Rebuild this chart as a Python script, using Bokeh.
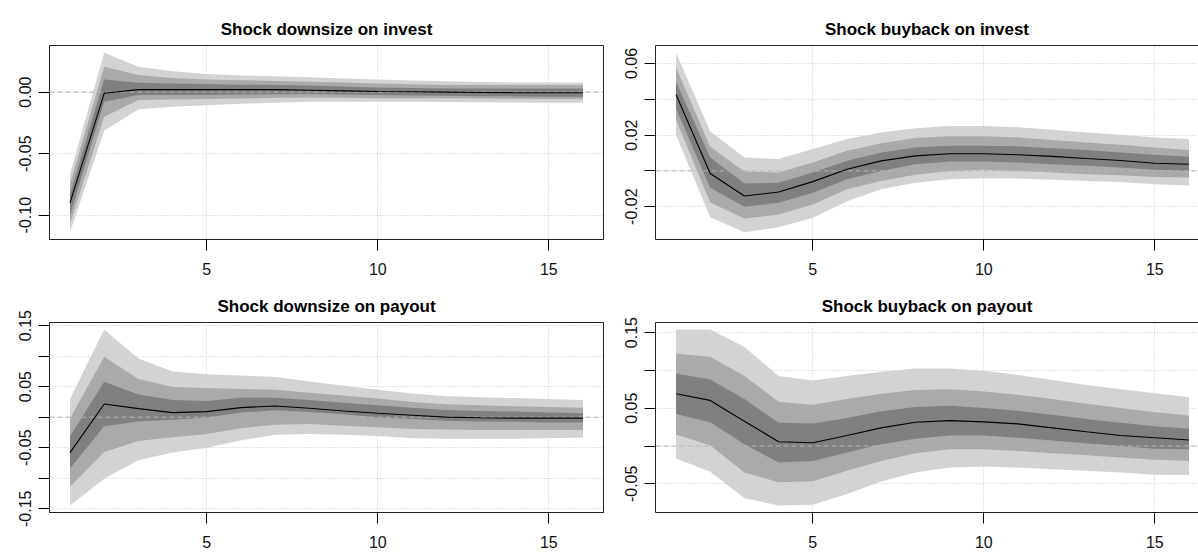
from bokeh.plotting import figure
from bokeh.layouts import column, row
from bokeh.models import Range1d, FixedTicker, CustomJSTickFormatter, Span, LinearAxis
from bokeh.embed import file_html
from bokeh.resources import INLINE

# ---------------- data ----------------
horizon = list(range(1, 17))
x_ticks = [5, 10, 15]

title_di = "Shock downsize on invest"
title_bi = "Shock buyback on invest"
title_dp = "Shock downsize on payout"
title_bp = "Shock buyback on payout"

# Shock downsize on invest
di_med  = [-0.0900, -0.0010, 0.0020, 0.0020, 0.0020, 0.0020, 0.0020, 0.0015, 0.0010, 0.0005, 0.0003, 0.0000, -0.0003, -0.0005, -0.0005, -0.0005]
di_o_hi = [-0.0668, 0.0320, 0.0206, 0.0170, 0.0146, 0.0135, 0.0128, 0.0120, 0.0110, 0.0103, 0.0095, 0.0088, 0.0082, 0.0078, 0.0077, 0.0076]
di_o_lo = [-0.1139, -0.0314, -0.0140, -0.0120, -0.0106, -0.0095, -0.0087, -0.0079, -0.0078, -0.0079, -0.0079, -0.0080, -0.0082, -0.0084, -0.0086, -0.0087]
di_m_hi = [-0.0745, 0.0206, 0.0138, 0.0115, 0.0103, 0.0097, 0.0090, 0.0084, 0.0077, 0.0070, 0.0063, 0.0058, 0.0057, 0.0057, 0.0057, 0.0057]
di_m_lo = [-0.1070, -0.0200, -0.0065, -0.0060, -0.0057, -0.0052, -0.0047, -0.0043, -0.0046, -0.0051, -0.0050, -0.0050, -0.0052, -0.0054, -0.0056, -0.0057]
di_i_hi = [-0.0826, 0.0103, 0.0076, 0.0070, 0.0065, 0.0060, 0.0057, 0.0054, 0.0046, 0.0038, 0.0034, 0.0030, 0.0030, 0.0030, 0.0030, 0.0030]
di_i_lo = [-0.1000, -0.0079, -0.0024, -0.0024, -0.0024, -0.0020, -0.0018, -0.0016, -0.0020, -0.0024, -0.0027, -0.0030, -0.0033, -0.0035, -0.0037, -0.0038]
di_yticks = [-0.10, -0.05, 0.00]
di_ylabels = ["-0.10", "-0.05", "0.00"]

# Shock buyback on invest
bi_med  = [0.0427, -0.0015, -0.0140, -0.0118, -0.0060, 0.0009, 0.0056, 0.0084, 0.0096, 0.0096, 0.0090, 0.0081, 0.0069, 0.0058, 0.0043, 0.0037]
bi_o_hi = [0.0660, 0.0221, 0.0075, 0.0066, 0.0122, 0.0178, 0.0215, 0.0238, 0.0251, 0.0251, 0.0244, 0.0229, 0.0215, 0.0202, 0.0187, 0.0178]
bi_o_lo = [0.0202, -0.0259, -0.0343, -0.0315, -0.0262, -0.0169, -0.0103, -0.0066, -0.0047, -0.0041, -0.0043, -0.0050, -0.0056, -0.0062, -0.0075, -0.0081]
bi_m_hi = [0.0577, 0.0135, -0.0004, -0.0009, 0.0047, 0.0112, 0.0154, 0.0184, 0.0193, 0.0193, 0.0187, 0.0172, 0.0159, 0.0146, 0.0131, 0.0116]
bi_m_lo = [0.0285, -0.0176, -0.0266, -0.0244, -0.0187, -0.0103, -0.0056, -0.0022, 0.0000, 0.0006, 0.0000, -0.0009, -0.0019, -0.0024, -0.0034, -0.0037]
bi_i_hi = [0.0497, 0.0075, -0.0071, -0.0066, -0.0009, 0.0056, 0.0103, 0.0131, 0.0141, 0.0140, 0.0137, 0.0127, 0.0116, 0.0103, 0.0090, 0.0079]
bi_i_lo = [0.0347, -0.0094, -0.0200, -0.0178, -0.0122, -0.0047, 0.0000, 0.0037, 0.0052, 0.0052, 0.0047, 0.0037, 0.0028, 0.0019, 0.0006, 0.0000]
bi_yticks = [-0.02, 0.00, 0.02, 0.04, 0.06]
bi_ylabels = ["-0.02", "", "0.02", "", "0.06"]

# Shock downsize on payout
dp_med  = [-0.0580, 0.0215, 0.0140, 0.0075, 0.0091, 0.0156, 0.0183, 0.0145, 0.0102, 0.0065, 0.0032, 0.0000, -0.0010, -0.0016, -0.0016, -0.0016]
dp_o_hi = [0.0300, 0.1435, 0.0960, 0.0747, 0.0704, 0.0683, 0.0656, 0.0586, 0.0516, 0.0450, 0.0387, 0.0344, 0.0328, 0.0312, 0.0296, 0.0280]
dp_o_lo = [-0.1446, -0.1010, -0.0704, -0.0580, -0.0500, -0.0380, -0.0290, -0.0274, -0.0290, -0.0310, -0.0344, -0.0355, -0.0355, -0.0355, -0.0344, -0.0333]
dp_m_hi = [-0.0020, 0.0990, 0.0624, 0.0495, 0.0478, 0.0460, 0.0450, 0.0398, 0.0355, 0.0306, 0.0247, 0.0210, 0.0194, 0.0177, 0.0167, 0.0156]
dp_m_lo = [-0.1134, -0.0570, -0.0390, -0.0328, -0.0274, -0.0180, -0.0124, -0.0113, -0.0140, -0.0167, -0.0194, -0.0204, -0.0210, -0.0210, -0.0210, -0.0210]
dp_i_hi = [-0.0312, 0.0580, 0.0370, 0.0280, 0.0263, 0.0317, 0.0317, 0.0280, 0.0237, 0.0194, 0.0156, 0.0118, 0.0102, 0.0091, 0.0075, 0.0065]
dp_i_lo = [-0.0839, -0.0150, -0.0070, -0.0043, -0.0005, 0.0075, 0.0113, 0.0086, 0.0048, -0.0005, -0.0032, -0.0059, -0.0070, -0.0075, -0.0086, -0.0086]
dp_yticks = [-0.15, -0.10, -0.05, 0.00, 0.05, 0.10, 0.15]
dp_ylabels = ["-0.15", "", "-0.05", "", "0.05", "", "0.15"]

# Shock buyback on payout
bp_med  = [0.0690, 0.0603, 0.0328, 0.0057, 0.0044, 0.0140, 0.0240, 0.0314, 0.0336, 0.0319, 0.0293, 0.0240, 0.0188, 0.0140, 0.0109, 0.0079]
bp_o_hi = [0.1540, 0.1540, 0.1310, 0.0926, 0.0865, 0.0926, 0.0983, 0.1026, 0.1026, 0.0996, 0.0939, 0.0873, 0.0808, 0.0751, 0.0699, 0.0646]
bp_o_lo = [-0.0166, -0.0340, -0.0690, -0.0786, -0.0777, -0.0633, -0.0470, -0.0350, -0.0284, -0.0270, -0.0284, -0.0306, -0.0328, -0.0350, -0.0380, -0.0384]
bp_m_hi = [0.1223, 0.1180, 0.0926, 0.0585, 0.0546, 0.0620, 0.0690, 0.0742, 0.0751, 0.0720, 0.0677, 0.0620, 0.0559, 0.0502, 0.0445, 0.0402]
bp_m_lo = [0.0153, 0.0009, -0.0350, -0.0480, -0.0467, -0.0328, -0.0197, -0.0096, -0.0044, -0.0044, -0.0066, -0.0096, -0.0122, -0.0153, -0.0183, -0.0197]
bp_i_hi = [0.0960, 0.0880, 0.0620, 0.0306, 0.0297, 0.0371, 0.0459, 0.0515, 0.0533, 0.0502, 0.0467, 0.0415, 0.0358, 0.0306, 0.0262, 0.0227]
bp_i_lo = [0.0424, 0.0314, 0.0022, -0.0218, -0.0197, -0.0087, 0.0022, 0.0096, 0.0140, 0.0140, 0.0109, 0.0074, 0.0035, 0.0000, -0.0035, -0.0044]
bp_yticks = [-0.05, 0.00, 0.05, 0.10, 0.15]
bp_ylabels = ["-0.05", "", "0.05", "", "0.15"]

# ---------------- styling ----------------
BAND_OUTER = "#d3d3d3"
BAND_MID = "#aaaaaa"
BAND_INNER = "#808080"
FONT = "Liberation Sans"
FULL_FRAME_W = 554.0

x_lo = horizon[0] - 0.04 * (horizon[-1] - horizon[0])
x_hi = horizon[-1] + 0.04 * (horizon[-1] - horizon[0])


def make_panel(title, med, o_lo, o_hi, m_lo, m_hi, i_lo, i_hi, yticks, ylabels,
               width, height, bl, br, bt, bb, right_side):
    all_vals = o_lo + o_hi + m_lo + m_hi + i_lo + i_hi + med
    lo, hi = min(all_vals), max(all_vals)
    ext = 0.04 * (hi - lo)
    y0, y1 = lo - ext, hi + ext

    frame_w = width - bl - br
    if right_side:
        xr = Range1d(x_lo, x_lo + (x_hi - x_lo) * frame_w / FULL_FRAME_W)
    else:
        xr = Range1d(x_lo, x_hi)

    p = figure(width=width, height=height, x_range=xr, y_range=Range1d(y0, y1),
               output_backend="svg", toolbar_location=None, tools="",
               min_border_left=bl, min_border_right=br,
               min_border_top=bt, min_border_bottom=bb)
    p.background_fill_color = "white"
    p.border_fill_color = "white"

    # title
    p.title.text = title
    p.title.align = "center"
    p.title.text_font = FONT
    p.title.text_font_size = "17px"
    p.title.text_font_style = "bold"
    p.title.text_color = "black"
    p.title.standoff = 14

    # grid
    p.xgrid.ticker = FixedTicker(ticks=x_ticks)
    p.ygrid.ticker = FixedTicker(ticks=yticks)
    for g in (p.xgrid, p.ygrid):
        g.grid_line_color = "#c8c8c8"
        g.grid_line_dash = "1 2"
        g.grid_line_width = 1

    # bands
    p.varea(x=horizon, y1=o_lo, y2=o_hi, fill_color=BAND_OUTER)
    p.varea(x=horizon, y1=m_lo, y2=m_hi, fill_color=BAND_MID)
    p.varea(x=horizon, y1=i_lo, y2=i_hi, fill_color=BAND_INNER)

    # zero line
    p.add_layout(Span(location=0, dimension="width", line_color="#b4b4b4",
                      line_dash="5 3", line_width=1))

    # median
    r = p.line(x=horizon, y=med, line_color="black", line_width=1.1)
    r.level = "overlay"

    # axes
    xa = p.xaxis[0]
    xa.ticker = FixedTicker(ticks=x_ticks)
    ya = p.yaxis[0]
    ya.ticker = FixedTicker(ticks=yticks)
    ya.formatter = CustomJSTickFormatter(
        args=dict(tv=yticks, tl=ylabels),
        code="""
        for (let i = 0; i < tv.length; i++) {
            if (Math.abs(tv[i] - tick) < 1e-9) { return tl[i]; }
        }
        return '';
        """)
    ya.major_label_orientation = "vertical"
    for ax in (xa, ya):
        ax.major_tick_out = 11
        ax.major_tick_in = 0
        ax.minor_tick_out = 0
        ax.minor_tick_in = 0
        ax.axis_line_color = "#222222"
        ax.major_tick_line_color = "black"
        ax.major_label_text_font = FONT
        ax.major_label_text_font_size = "16px"
        ax.major_label_text_color = "#111111"
    xa.major_label_standoff = 12
    ya.major_label_standoff = 7

    if right_side:
        p.outline_line_color = None
        top = LinearAxis(ticker=FixedTicker(ticks=[]), major_tick_out=0, major_tick_in=0,
                         minor_tick_out=0, minor_tick_in=0, axis_line_color="#222222",
                         major_label_text_alpha=0)
        p.add_layout(top, "above")
    else:
        p.outline_line_color = "#222222"
        p.outline_line_width = 1
    return p


p1 = make_panel(title_di, di_med, di_o_lo, di_o_hi, di_m_lo, di_m_hi, di_i_lo, di_i_hi,
                di_yticks, di_ylabels, 610, 282, 49, 7, 45, 43, False)
p2 = make_panel(title_bi, bi_med, bi_o_lo, bi_o_hi, bi_m_lo, bi_m_hi, bi_i_lo, bi_i_hi,
                bi_yticks, bi_ylabels, 588, 282, 45, 0, 45, 43, True)
p3 = make_panel(title_dp, dp_med, dp_o_lo, dp_o_hi, dp_m_lo, dp_m_hi, dp_i_lo, dp_i_hi,
                dp_yticks, dp_ylabels, 610, 270, 49, 7, 39, 39, False)
p4 = make_panel(title_bp, bp_med, bp_o_lo, bp_o_hi, bp_m_lo, bp_m_hi, bp_i_lo, bp_i_hi,
                bp_yticks, bp_ylabels, 588, 270, 45, 0, 40, 40, True)

layout = column(row(p1, p2), row(p3, p4))
open("out.html", "w").write(file_html(layout, INLINE))
